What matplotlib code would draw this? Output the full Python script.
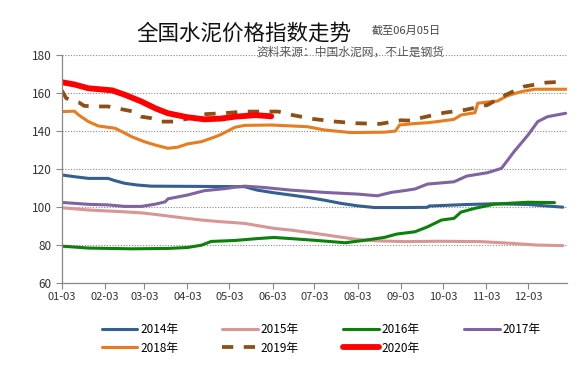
import matplotlib
matplotlib.use("Agg")
import matplotlib.pyplot as plt

plt.rcParams['font.family'] = ['Noto Sans CJK SC', 'DejaVu Sans']

# x = days after Jan 3
month_ticks = [0, 31, 59, 90, 120, 151, 181, 212, 243, 273, 304, 334]
month_labels = ["01-03", "02-03", "03-03", "04-03", "05-03", "06-03",
                "07-03", "08-03", "09-03", "10-03", "11-03", "12-03"]

d2014 = [0, 9, 19, 33, 38, 45, 54, 64, 90, 117, 131, 140, 152, 164, 176, 188, 200, 212, 224, 246, 262, 263, 290, 310, 334, 359]
v2014 = [116.8, 115.9, 115, 115, 113.8, 112.4, 111.5, 110.9, 110.8, 110.7, 110.6, 108.8, 107.4, 106.2, 105, 103.5, 101.8, 100.5, 99.6, 99.6, 99.7, 100.4, 101.2, 101.6, 101.2, 99.8]

d2015 = [0, 19, 43, 57, 71, 86, 100, 114, 124, 131, 152, 164, 179, 195, 212, 226, 246, 270, 300, 320, 340, 359]
v2015 = [99.5, 98.3, 97.4, 96.8, 95.6, 94.2, 93, 92.1, 91.6, 91.2, 88.6, 87.7, 86.2, 84.5, 82.7, 82, 81.6, 81.8, 81.6, 80.8, 79.8, 79.5]

d2016 = [0, 19, 50, 76, 90, 100, 107, 124, 140, 152, 164, 183, 203, 217, 231, 240, 253, 262, 272, 281, 286, 296, 310, 334, 353]
v2016 = [79.2, 78.2, 77.8, 78, 78.5, 79.7, 81.7, 82.2, 83.2, 83.8, 83.2, 82.2, 81, 82.3, 83.8, 85.6, 86.8, 89.4, 93, 93.9, 97.2, 99.2, 101.4, 102.4, 102.2]

d2017 = [0, 19, 33, 45, 57, 67, 74, 76, 90, 102, 117, 124, 131, 145, 164, 188, 212, 226, 236, 246, 253, 262, 281, 290, 305, 315, 324, 334, 341, 348, 361]
v2017 = [102.3, 101.3, 101, 100.2, 100.2, 101.4, 102.6, 104.2, 106.2, 108.5, 109.6, 110.4, 110.9, 110.2, 108.8, 107.6, 106.7, 105.8, 107.6, 108.6, 109.4, 112, 113.2, 116.2, 118, 120.3, 129.1, 137.9, 145, 147.6, 149.4]

d2018 = [0, 9, 12, 19, 26, 38, 43, 50, 59, 67, 76, 83, 90, 100, 110, 114, 124, 131, 150, 176, 188, 207, 231, 239, 242, 253, 262, 269, 281, 286, 296, 298, 308, 312, 319, 329, 339, 362]
v2018 = [150.3, 150.5, 148.5, 145, 142.7, 141.5, 139.7, 137, 134.4, 132.6, 130.9, 131.5, 133.2, 134.4, 137, 138.2, 142, 143, 143.2, 142.3, 140.6, 139.2, 139.4, 140, 143.2, 144, 144.4, 145, 146.2, 148.5, 149.7, 154.7, 155.6, 155.8, 158.6, 160.8, 162.1, 162.1]

d2019 = [0, 3, 8, 12, 16, 26, 33, 43, 50, 57, 64, 71, 80, 90, 102, 117, 131, 140, 155, 165, 180, 196, 212, 228, 243, 251, 258, 274, 289, 305, 318, 331, 347, 360]
v2019 = [161.4, 157.4, 155.8, 155.2, 153.3, 153, 153, 151.5, 150.5, 147.6, 146.8, 145, 145, 146.5, 148.9, 149.5, 150.3, 150.3, 150.3, 148.5, 146.4, 145, 144.1, 143.8, 145.7, 145.5, 147.1, 149.7, 151.2, 153.8, 159.1, 163.5, 165.6, 166.1]

d2020 = [0, 9, 19, 36, 45, 57, 67, 76, 90, 102, 114, 124, 139, 150]
v2020 = [165.8, 164.6, 162.6, 161.5, 159.2, 155.6, 152, 149.4, 147.3, 146.2, 146.6, 147.6, 148.4, 147.8]

series = [
    ("2014年", d2014, v2014, "#335F91", "-", 2.2),
    ("2015年", d2015, v2015, "#D99694", "-", 2.2),
    ("2016年", d2016, v2016, "#0B800B", "-", 2.2),
    ("2017年", d2017, v2017, "#8064A2", "-", 2.2),
    ("2018年", d2018, v2018, "#E87C1E", "-", 2.2),
    ("2019年", d2019, v2019, "#8F4E13", (0, (3, 2.8)), 2.7),
    ("2020年", d2020, v2020, "#FF0000", "-", 4.2),
]

fig = plt.figure(figsize=(5.84, 3.87), dpi=100)
ax = fig.add_axes([0.106, 0.270, 0.865, 0.587])

handles = {}
for name, d, v, c, ls, lw in series:
    h, = ax.plot(d, v, color=c, linestyle=ls, linewidth=lw, label=name,
                 solid_capstyle='round', dash_capstyle='butt')
    handles[name] = h

ax.set_xlim(0, 362)
ax.set_ylim(60, 180)
ax.set_yticks([60, 80, 100, 120, 140, 160, 180])
ax.set_xticks(month_ticks)
ax.set_xticklabels(month_labels)
ax.tick_params(axis='both', labelsize=8, colors='#888888', labelcolor='#333333', length=4, width=0.8)
ax.tick_params(axis='y', labelsize=8.5)
ax.tick_params(axis='x', pad=3)
ax.grid(axis='y', linestyle=(0, (1, 1.5)), color='#888888', linewidth=0.8)
ax.set_axisbelow(True)
for s in ['top', 'right']:
    ax.spines[s].set_visible(False)
for s in ['left', 'bottom']:
    ax.spines[s].set_color('#888888')
    ax.spines[s].set_linewidth(0.9)

fig.text(0.418, 0.912, "全国水泥价格指数走势", fontsize=15.5, ha='center', va='center', color='#111111')
fig.text(0.637, 0.920, "截至06月05日", fontsize=8, ha='left', va='center', color='#444444')
fig.text(0.600, 0.866, "资料来源：中国水泥网，不止是钢货", fontsize=8.5, ha='center', va='center', color='#555555')

order = ["2014年", "2018年", "2015年", "2019年", "2016年", "2020年", "2017年"]
leg = fig.legend(handles=[handles[k] for k in order], loc='upper left',
                 bbox_to_anchor=(0.160, 0.186),
                 ncol=4, frameon=False, fontsize=8.5, handlelength=3.0,
                 columnspacing=3.75, handletextpad=0.25, labelspacing=0.45,
                 borderpad=0.2)

fig.savefig("out.png", dpi=100)
